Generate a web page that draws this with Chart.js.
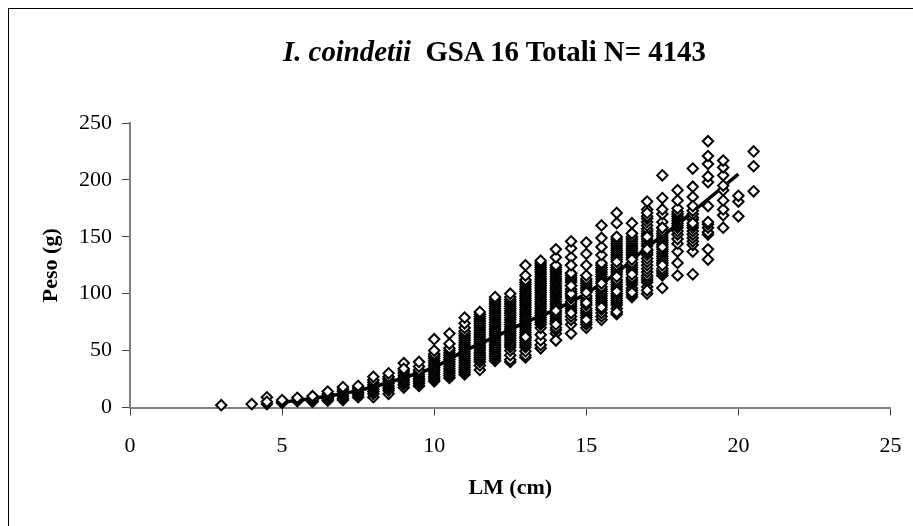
<!DOCTYPE html>
<html>
<head>
<meta charset="utf-8">
<title>I. coindetii GSA 16</title>
<script src="https://cdn.jsdelivr.net/npm/chart.js@4"></script>
<style>
  html, body { margin: 0; padding: 0; background: #fff; }
  #wrap { position: relative; width: 913px; height: 526px; overflow: hidden; }
  #frame { position: absolute; left: 8px; top: 8px; right: -4px; bottom: -4px; border: 1px solid #000; }
  #chartTitle {
    position: absolute; left: 283px; top: 35px; white-space: pre;
    font: bold 28.8px "Liberation Serif", serif; color: #000;
  }
  canvas { position: absolute; left: 0; top: 0; }
</style>
</head>
<body>
<div id="wrap">
  <canvas id="chart" width="913" height="526"></canvas>
  <div id="frame"></div>
  <div id="chartTitle"><i>I. coindetii</i>  GSA 16 Totali N= 4143</div>
</div>
<script>
// values, one list per length class (later values sit on top)
const lmClasses = [3, 4, 4.5, 5, 5.5, 6, 6.5, 7, 7.5, 8, 8.5, 9, 9.5, 10, 10.5, 11, 11.5, 12, 12.5, 13, 13.5, 14, 14.5, 15, 15.5, 16, 16.5, 17, 17.5, 18, 18.5, 19, 19.5, 20, 20.5];
const pesoByClass = [
  [2],
  [3],
  [3, 9, 5],
  [4, 5, 6.5],
  [5.5, 6.5, 8.5],
  [5, 6, 7, 8, 10],
  [6, 7, 8, 9, 10, 12, 14],
  [6.5, 8, 10, 12, 14, 16, 18],
  [9, 11, 13, 15, 17, 19],
  [9, 12, 14, 16, 18, 20, 22, 24, 27],
  [12, 15, 17, 19, 21, 23, 25, 27, 30],
  [17.5, 20, 22, 24, 26, 28, 30, 32, 39, 34],
  [19, 21, 23, 25, 27, 29, 31, 33, 36, 40],
  [23, 25, 27, 29, 31, 33, 35, 37, 39, 41, 43, 45, 47, 60, 50],
  [26, 28, 30, 32, 34, 36, 38, 40, 42, 44, 46, 48, 50, 52, 56, 65],
  [29, 31, 33, 35, 37, 39, 41, 43, 45, 47, 49, 51, 53, 55, 57, 59, 61, 63, 65, 67, 70, 74, 79],
  [33, 37, 40, 42, 44, 46, 48, 50, 52, 54, 56, 58, 60, 62, 64, 66, 68, 70, 72, 74, 76, 78, 80, 82, 84],
  [41, 43, 45, 47, 49, 51, 53, 55, 57, 59, 61, 63, 65, 67, 69, 71, 73, 75, 77, 79, 81, 83, 85, 87, 89, 91, 93, 95, 97],
  [40, 42, 46, 50, 53, 55, 57, 59, 61, 63, 65, 67, 69, 71, 73, 75, 77, 79, 81, 83, 85, 87, 89, 91, 93, 95, 97, 100],
  [44, 46, 49.5, 53, 55, 57, 59, 61, 64, 66, 68, 70, 72, 74, 76, 78, 80, 82, 84, 86, 88, 90, 92, 94, 96, 98, 100, 102, 104, 106, 108, 110, 112, 116, 125, 62],
  [52, 55, 59, 64, 70, 73, 75, 77, 79, 81, 83, 85, 87, 89, 91, 93, 95, 97, 99, 101, 103, 105, 107, 109, 111, 113, 115, 117, 119, 121, 123, 125, 127, 129],
  [59, 65, 68, 70, 74, 76, 78, 80, 82, 84, 87, 89, 91, 93, 95, 97, 99, 101, 103, 105, 107, 109, 111, 113, 115, 117, 119, 121, 123, 125, 132, 139, 85, 73, 59],
  [65, 73, 77, 80, 85, 87, 89, 91, 93, 96, 98, 100, 102, 104, 107, 110, 112, 114, 116, 118, 125, 132, 140, 146, 83, 100, 107, 118, 125],
  [70, 73, 75, 79, 81, 83, 85, 87, 90, 94, 96, 98, 103, 105, 107, 109, 111, 113, 116, 125, 135, 145, 77, 92, 101],
  [77, 80, 83, 86, 90, 92, 94, 96, 98, 100, 102, 104, 106, 111, 113, 115, 117, 119, 121, 123, 125, 127, 134, 141, 149, 160, 88, 109],
  [82, 84, 87, 90, 92, 94, 96, 98, 100, 104, 106, 108, 110, 112, 117, 119, 121, 123, 125, 130, 132, 134, 136, 138, 140, 142, 144, 146, 148, 162, 171, 84, 102, 115, 128, 150],
  [97, 99, 103, 105, 108, 110, 112, 114, 119, 121, 123, 125, 127, 132, 134, 136, 138, 140, 142, 144, 146, 148, 150, 153, 162, 101, 117, 130, 153],
  [100, 106, 110, 112, 114, 116, 119, 122, 125, 128, 131, 134, 136, 138, 142, 144, 146, 148, 151, 153, 155, 157, 160, 163, 166, 168, 174, 181, 103, 139, 150, 171],
  [105, 116, 118, 120, 122, 127, 129, 131, 133, 135, 137, 139, 143, 145, 147, 149, 151, 153, 155, 158, 163, 170, 174, 184, 204, 125, 141, 158],
  [116, 127, 137, 144, 148, 152, 155, 158, 160, 162, 164, 166, 168, 170, 172, 175, 182, 191],
  [117, 137, 143, 146, 149, 152, 155, 158, 160, 165, 167, 170, 173, 185, 194, 210, 162, 177],
  [130, 139, 152, 154, 158, 161, 163, 177, 198, 203, 214, 221, 234],
  [158, 169, 174, 182, 191, 195, 204, 211, 217],
  [168, 181, 186],
  [190, 212, 225]
];
const trendLm = [5, 6, 7, 8, 9, 10, 11, 12, 13, 14, 15, 16, 17, 18, 19, 20];
const trendPeso = [4.5, 8, 12, 18, 26, 35, 50, 62, 75, 86, 100, 118, 141, 161, 183, 205];
const xTicks = [0, 5, 10, 15, 20, 25];
const yTicks = [0, 50, 100, 150, 200, 250];

const points = [];
lmClasses.forEach((lm, i) => {
  pesoByClass[i].forEach(p => points.push({ x: lm, y: p }));
});
const trend = trendLm.map((lm, i) => ({ x: lm, y: trendPeso[i] }));

const serif = '"Liberation Serif", serif';

new Chart(document.getElementById('chart').getContext('2d'), {
  type: 'scatter',
  data: {
    datasets: [
      {
        label: 'Peso',
        data: points,
        order: 1,
        clip: false,
        pointStyle: 'rectRot',
        pointRadius: 5.2,
        pointBorderWidth: 2,
        pointBorderColor: '#000',
        pointBackgroundColor: '#fff'
      },
      {
        label: 'Curva',
        data: trend,
        order: 2,
        showLine: true,
        borderColor: '#000',
        borderWidth: 3.5,
        pointRadius: 0
      }
    ]
  },
  options: {
    responsive: false,
    animation: false,
    layout: { padding: { top: 123, right: 22.5, left: 0, bottom: 0 } },
    plugins: { legend: { display: false }, title: { display: false }, tooltip: { enabled: false } },
    scales: {
      x: {
        type: 'linear',
        min: 0,
        max: 25,
        // the tick padding would otherwise eat into the plot width
        afterFit: s => { s.height = 118.5; s.paddingLeft = 0; s.paddingRight = 0; },
        afterBuildTicks: s => { s.ticks = xTicks.map(v => ({ value: v })); },
        grid: { drawOnChartArea: false, tickLength: 8, tickColor: '#404040', tickWidth: 1 },
        border: { color: '#808080', width: 2 },
        ticks: { color: '#000', maxRotation: 0, padding: 18, font: { family: serif, size: 22 } },
        title: { display: true, text: 'LM (cm)', color: '#000', padding: { top: 0, bottom: 24 }, font: { family: serif, size: 22, weight: 'bold' } }
      },
      y: {
        type: 'linear',
        min: 0,
        max: 250,
        afterFit: s => { s.width = 130; },
        afterBuildTicks: s => { s.ticks = yTicks.map(v => ({ value: v })); },
        grid: { drawOnChartArea: false, tickLength: 8, tickColor: '#404040', tickWidth: 1 },
        border: { color: '#808080', width: 2 },
        ticks: { color: '#000', padding: 10, font: { family: serif, size: 22 } },
        title: { display: true, text: 'Peso (g)', color: '#000', padding: { top: 38, bottom: 0 }, font: { family: serif, size: 22, weight: 'bold' } }
      }
    }
  }
});
</script>
</body>
</html>
